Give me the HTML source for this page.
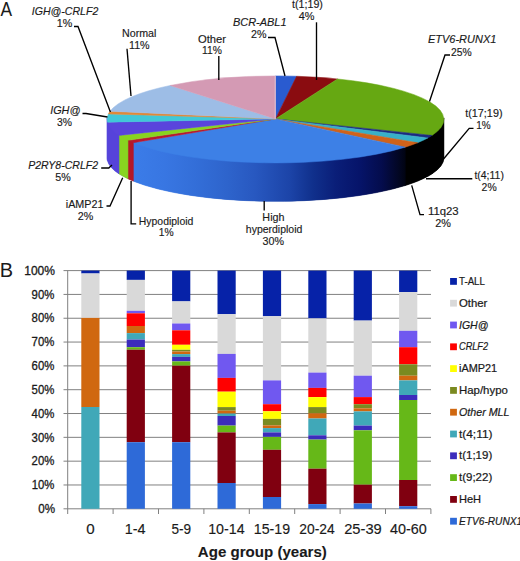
<!DOCTYPE html>
<html><head><meta charset="utf-8"><style>
html,body{margin:0;padding:0;background:#fff;width:520px;height:561px;overflow:hidden}
svg{display:block}
text{font-family:"Liberation Sans",sans-serif;fill:#1a1a1a;stroke:#1a1a1a;stroke-width:0.3px}
.pl{font-size:10.7px;stroke-width:0.15px}
.it{font-style:italic}
.ax{font-size:12.1px}
.xl{font-size:13.9px;stroke-width:0.15px}
.lg{font-size:10.8px;stroke-width:0.22px}
.ttl{font-size:15.4px;font-weight:bold;stroke-width:0.1px}
.pn{font-size:20.5px;stroke-width:0}
</style></head><body>
<svg width="520" height="561" viewBox="0 0 520 561">
<defs>
<linearGradient id="heh" gradientUnits="userSpaceOnUse" x1="134" y1="0" x2="444" y2="0">
<stop offset="0" stop-color="#3b7ce8"/>
<stop offset="0.1" stop-color="#3876e2"/>
<stop offset="0.2" stop-color="#336ed8"/>
<stop offset="0.3" stop-color="#2e64cc"/>
<stop offset="0.39" stop-color="#2858c0"/>
<stop offset="0.503" stop-color="#1c44a8"/>
<stop offset="0.577" stop-color="#10308c"/>
<stop offset="0.652" stop-color="#0a1e78"/>
<stop offset="0.726" stop-color="#06146a"/>
<stop offset="0.8" stop-color="#040c4c"/>
<stop offset="0.858" stop-color="#020620"/>
<stop offset="0.897" stop-color="#000"/>
<stop offset="1" stop-color="#000"/>
</linearGradient>
</defs>
<path d="M443.90,117.90 A168.4,43.5 0 0 1 107.10,117.90 L107.10,157.80 A168.4,43.5 0 0 0 443.90,157.80 Z" fill="url(#heh)"/>
<path d="M443.90,117.90 A168.4,43.5 0 0 1 432.07,133.91 L432.07,173.81 A168.4,43.5 0 0 0 443.90,157.80 Z" fill="#000" stroke="#000" stroke-width="0.6"/>
<path d="M432.07,133.91 A168.4,43.5 0 0 1 427.87,136.42 L427.87,176.32 A168.4,43.5 0 0 0 432.07,173.81 Z" fill="#000" stroke="#000" stroke-width="0.6"/>
<path d="M427.87,136.42 A168.4,43.5 0 0 1 417.68,141.21 L417.68,181.11 A168.4,43.5 0 0 0 427.87,176.32 Z" fill="#000" stroke="#000" stroke-width="0.6"/>
<path d="M417.68,141.21 A168.4,43.5 0 0 1 405.25,145.63 L405.25,185.53 A168.4,43.5 0 0 0 417.68,181.11 Z" fill="#000" stroke="#000" stroke-width="0.6"/>
<path d="M405.25,145.63 A168.4,43.5 0 0 1 133.32,141.21 L133.32,181.11 A168.4,43.5 0 0 0 405.25,185.53 Z" fill="url(#heh)" stroke="url(#heh)" stroke-width="0.6"/>
<path d="M133.32,141.21 A168.4,43.5 0 0 1 127.93,138.86 L127.93,178.76 A168.4,43.5 0 0 0 133.32,181.11 Z" fill="#b41828" stroke="#b41828" stroke-width="0.6"/>
<path d="M127.93,138.86 A168.4,43.5 0 0 1 118.93,133.91 L118.93,173.81 A168.4,43.5 0 0 0 127.93,178.76 Z" fill="#88d420" stroke="#88d420" stroke-width="0.6"/>
<path d="M118.93,133.91 A168.4,43.5 0 0 1 107.43,120.63 L107.43,160.53 A168.4,43.5 0 0 0 118.93,173.81 Z" fill="#5643da" stroke="#5643da" stroke-width="0.6"/>
<path d="M107.43,120.63 A168.4,43.5 0 0 1 107.10,117.90 L107.10,157.80 A168.4,43.5 0 0 0 107.43,160.53 Z" fill="#5643da" stroke="#5643da" stroke-width="0.6"/>
<path d="M275.5,118.9 L275.50,75.90 A168.4,43.5 0 0 1 296.61,76.24 Z" fill="#2a5bd0" stroke="#2a5bd0" stroke-width="0.5" stroke-linejoin="round"/>
<path d="M275.5,118.9 L296.61,76.24 A168.4,43.5 0 0 1 337.49,78.95 Z" fill="#8a0c10" stroke="#8a0c10" stroke-width="0.5" stroke-linejoin="round"/>
<path d="M275.5,118.9 L337.49,78.95 A168.4,43.5 0 0 1 432.07,135.41 Z" fill="#66a812" stroke="#66a812" stroke-width="0.5" stroke-linejoin="round"/>
<path d="M275.5,118.9 L432.07,135.41 A168.4,43.5 0 0 1 427.87,137.92 Z" fill="#1c2a80" stroke="#1c2a80" stroke-width="0.5" stroke-linejoin="round"/>
<path d="M275.5,118.9 L427.87,137.92 A168.4,43.5 0 0 1 417.68,142.71 Z" fill="#38b0c8" stroke="#38b0c8" stroke-width="0.5" stroke-linejoin="round"/>
<path d="M275.5,118.9 L417.68,142.71 A168.4,43.5 0 0 1 405.25,147.13 Z" fill="#d0621a" stroke="#d0621a" stroke-width="0.5" stroke-linejoin="round"/>
<path d="M275.5,118.9 L405.25,147.13 A168.4,43.5 0 0 1 133.32,142.71 Z" fill="#3d80e6" stroke="#3d80e6" stroke-width="0.5" stroke-linejoin="round"/>
<path d="M275.5,118.9 L133.32,142.71 A168.4,43.5 0 0 1 127.93,140.36 Z" fill="#b81830" stroke="#b81830" stroke-width="0.5" stroke-linejoin="round"/>
<path d="M275.5,118.9 L127.93,140.36 A168.4,43.5 0 0 1 118.93,135.41 Z" fill="#88d420" stroke="#88d420" stroke-width="0.5" stroke-linejoin="round"/>
<path d="M275.5,118.9 L118.93,135.41 A168.4,43.5 0 0 1 107.43,122.13 Z" fill="#5a44dc" stroke="#5a44dc" stroke-width="0.5" stroke-linejoin="round"/>
<path d="M275.5,118.9 L107.43,122.13 A168.4,43.5 0 0 1 108.43,113.95 Z" fill="#40c8d8" stroke="#40c8d8" stroke-width="0.5" stroke-linejoin="round"/>
<path d="M275.5,118.9 L108.43,113.95 A168.4,43.5 0 0 1 110.08,111.25 Z" fill="#e08838" stroke="#e08838" stroke-width="0.5" stroke-linejoin="round"/>
<path d="M275.5,118.9 L110.08,111.25 A168.4,43.5 0 0 1 170.21,85.45 Z" fill="#9dbde6" stroke="#9dbde6" stroke-width="0.5" stroke-linejoin="round"/>
<path d="M275.5,118.9 L170.21,85.45 A168.4,43.5 0 0 1 275.50,75.90 Z" fill="#d49ab4" stroke="#d49ab4" stroke-width="0.5" stroke-linejoin="round"/>
<line x1="275.2" y1="118.9" x2="275.2" y2="76.2" stroke="#eee4ee" stroke-width="0.8" opacity="0.7"/>
<path d="M74,26.5 L78,26.5 L110.4,112" fill="none" stroke="#000" stroke-width="1.35"/><path d="M127,48.8 L131,96" fill="none" stroke="#000" stroke-width="1.35"/><path d="M218.8,56 L218.8,80" fill="none" stroke="#000" stroke-width="1.35"/><path d="M268,37.5 L275,37.5 L285,76" fill="none" stroke="#000" stroke-width="1.35"/><path d="M316.5,22.3 L316.5,80" fill="none" stroke="#000" stroke-width="1.35"/><path d="M450,55 L445,55 L429.5,101.5" fill="none" stroke="#000" stroke-width="1.35"/><path d="M473.5,128.4 L469.2,128.4 L442.7,160" fill="none" stroke="#000" stroke-width="1.35"/><path d="M472.3,178.7 L426,178.7" fill="none" stroke="#000" stroke-width="1.35"/><path d="M424,214.6 L420,214.6 L411.7,185.4" fill="none" stroke="#000" stroke-width="1.35"/><path d="M136.2,223.8 L131.1,223.8 L131.1,181" fill="none" stroke="#000" stroke-width="1.35"/><path d="M264.2,201 L264.2,210.4" fill="none" stroke="#000" stroke-width="1.35"/><path d="M106.5,206 L110,206 L122.7,177.7" fill="none" stroke="#000" stroke-width="1.35"/><path d="M101.2,168 L108.8,168 L112,165" fill="none" stroke="#000" stroke-width="1.35"/><path d="M82.5,113.5 L86,113.5 L107.5,117" fill="none" stroke="#000" stroke-width="1.35"/>
<line x1="63.5" y1="508.80" x2="431" y2="508.80" stroke="#808080" stroke-width="1"/><line x1="63.5" y1="484.98" x2="431" y2="484.98" stroke="#808080" stroke-width="1"/><line x1="63.5" y1="461.16" x2="431" y2="461.16" stroke="#808080" stroke-width="1"/><line x1="63.5" y1="437.34" x2="431" y2="437.34" stroke="#808080" stroke-width="1"/><line x1="63.5" y1="413.52" x2="431" y2="413.52" stroke="#808080" stroke-width="1"/><line x1="63.5" y1="389.70" x2="431" y2="389.70" stroke="#808080" stroke-width="1"/><line x1="63.5" y1="365.88" x2="431" y2="365.88" stroke="#808080" stroke-width="1"/><line x1="63.5" y1="342.06" x2="431" y2="342.06" stroke="#808080" stroke-width="1"/><line x1="63.5" y1="318.24" x2="431" y2="318.24" stroke="#808080" stroke-width="1"/><line x1="63.5" y1="294.42" x2="431" y2="294.42" stroke="#808080" stroke-width="1"/><line x1="63.5" y1="270.60" x2="431" y2="270.60" stroke="#808080" stroke-width="1"/>
<line x1="67.7" y1="270.6" x2="67.7" y2="508.8" stroke="#808080" stroke-width="1"/>
<line x1="67.70" y1="508.80" x2="67.70" y2="514" stroke="#808080" stroke-width="1"/><line x1="113.10" y1="508.80" x2="113.10" y2="514" stroke="#808080" stroke-width="1"/><line x1="158.50" y1="508.80" x2="158.50" y2="514" stroke="#808080" stroke-width="1"/><line x1="203.90" y1="508.80" x2="203.90" y2="514" stroke="#808080" stroke-width="1"/><line x1="249.30" y1="508.80" x2="249.30" y2="514" stroke="#808080" stroke-width="1"/><line x1="294.70" y1="508.80" x2="294.70" y2="514" stroke="#808080" stroke-width="1"/><line x1="340.10" y1="508.80" x2="340.10" y2="514" stroke="#808080" stroke-width="1"/><line x1="385.50" y1="508.80" x2="385.50" y2="514" stroke="#808080" stroke-width="1"/><line x1="430.90" y1="508.80" x2="430.90" y2="514" stroke="#808080" stroke-width="1"/>
<rect x="81.30" y="270.60" width="18.2" height="2.90" fill="#0622a8"/><rect x="81.30" y="273.50" width="18.2" height="44.40" fill="#d9d9d9"/><rect x="81.30" y="317.90" width="18.2" height="89.10" fill="#d06810"/><rect x="81.30" y="407.00" width="18.2" height="101.80" fill="#40a8b8"/><rect x="126.70" y="270.60" width="18.2" height="9.30" fill="#0622a8"/><rect x="126.70" y="279.90" width="18.2" height="30.90" fill="#d9d9d9"/><rect x="126.70" y="310.80" width="18.2" height="2.50" fill="#7058f0"/><rect x="126.70" y="313.30" width="18.2" height="12.70" fill="#ff0000"/><rect x="126.70" y="326.00" width="18.2" height="7.10" fill="#d06810"/><rect x="126.70" y="333.10" width="18.2" height="6.50" fill="#40a8b8"/><rect x="126.70" y="339.60" width="18.2" height="7.60" fill="#3c2cbc"/><rect x="126.70" y="347.20" width="18.2" height="2.50" fill="#66b818"/><rect x="126.70" y="349.70" width="18.2" height="92.50" fill="#800010"/><rect x="126.70" y="442.20" width="18.2" height="66.60" fill="#2e6ad8"/><rect x="172.10" y="270.60" width="18.2" height="30.80" fill="#0622a8"/><rect x="172.10" y="301.40" width="18.2" height="22.10" fill="#d9d9d9"/><rect x="172.10" y="323.50" width="18.2" height="6.80" fill="#7058f0"/><rect x="172.10" y="330.30" width="18.2" height="14.50" fill="#ff0000"/><rect x="172.10" y="344.80" width="18.2" height="5.00" fill="#ffff00"/><rect x="172.10" y="349.80" width="18.2" height="1.70" fill="#7a8a20"/><rect x="172.10" y="351.50" width="18.2" height="2.60" fill="#d06810"/><rect x="172.10" y="354.10" width="18.2" height="2.80" fill="#40a8b8"/><rect x="172.10" y="356.90" width="18.2" height="4.50" fill="#3c2cbc"/><rect x="172.10" y="361.40" width="18.2" height="4.30" fill="#66b818"/><rect x="172.10" y="365.70" width="18.2" height="76.50" fill="#800010"/><rect x="172.10" y="442.20" width="18.2" height="66.60" fill="#2e6ad8"/><rect x="217.50" y="270.60" width="18.2" height="43.60" fill="#0622a8"/><rect x="217.50" y="314.20" width="18.2" height="39.70" fill="#d9d9d9"/><rect x="217.50" y="353.90" width="18.2" height="24.00" fill="#7058f0"/><rect x="217.50" y="377.90" width="18.2" height="13.80" fill="#ff0000"/><rect x="217.50" y="391.70" width="18.2" height="15.40" fill="#ffff00"/><rect x="217.50" y="407.10" width="18.2" height="3.60" fill="#7a8a20"/><rect x="217.50" y="410.70" width="18.2" height="2.90" fill="#d06810"/><rect x="217.50" y="413.60" width="18.2" height="2.40" fill="#40a8b8"/><rect x="217.50" y="416.00" width="18.2" height="9.60" fill="#3c2cbc"/><rect x="217.50" y="425.60" width="18.2" height="6.80" fill="#66b818"/><rect x="217.50" y="432.40" width="18.2" height="50.60" fill="#800010"/><rect x="217.50" y="483.00" width="18.2" height="25.80" fill="#2e6ad8"/><rect x="262.90" y="270.60" width="18.2" height="45.60" fill="#0622a8"/><rect x="262.90" y="316.20" width="18.2" height="64.20" fill="#d9d9d9"/><rect x="262.90" y="380.40" width="18.2" height="23.80" fill="#7058f0"/><rect x="262.90" y="404.20" width="18.2" height="7.10" fill="#ff0000"/><rect x="262.90" y="411.30" width="18.2" height="7.60" fill="#ffff00"/><rect x="262.90" y="418.90" width="18.2" height="6.50" fill="#7a8a20"/><rect x="262.90" y="425.40" width="18.2" height="2.70" fill="#d06810"/><rect x="262.90" y="428.10" width="18.2" height="4.30" fill="#40a8b8"/><rect x="262.90" y="432.40" width="18.2" height="4.50" fill="#3c2cbc"/><rect x="262.90" y="436.90" width="18.2" height="12.90" fill="#66b818"/><rect x="262.90" y="449.80" width="18.2" height="47.20" fill="#800010"/><rect x="262.90" y="497.00" width="18.2" height="11.80" fill="#2e6ad8"/><rect x="308.30" y="270.60" width="18.2" height="47.80" fill="#0622a8"/><rect x="308.30" y="318.40" width="18.2" height="54.20" fill="#d9d9d9"/><rect x="308.30" y="372.60" width="18.2" height="15.30" fill="#7058f0"/><rect x="308.30" y="387.90" width="18.2" height="9.20" fill="#ff0000"/><rect x="308.30" y="397.10" width="18.2" height="10.00" fill="#ffff00"/><rect x="308.30" y="407.10" width="18.2" height="6.20" fill="#7a8a20"/><rect x="308.30" y="413.30" width="18.2" height="5.20" fill="#d06810"/><rect x="308.30" y="418.50" width="18.2" height="16.80" fill="#40a8b8"/><rect x="308.30" y="435.30" width="18.2" height="4.30" fill="#3c2cbc"/><rect x="308.30" y="439.60" width="18.2" height="29.10" fill="#66b818"/><rect x="308.30" y="468.70" width="18.2" height="35.40" fill="#800010"/><rect x="308.30" y="504.10" width="18.2" height="4.70" fill="#2e6ad8"/><rect x="353.70" y="270.60" width="18.2" height="50.00" fill="#0622a8"/><rect x="353.70" y="320.60" width="18.2" height="55.10" fill="#d9d9d9"/><rect x="353.70" y="375.70" width="18.2" height="21.40" fill="#7058f0"/><rect x="353.70" y="397.10" width="18.2" height="7.10" fill="#ff0000"/><rect x="353.70" y="404.20" width="18.2" height="4.10" fill="#7a8a20"/><rect x="353.70" y="408.30" width="18.2" height="3.10" fill="#d06810"/><rect x="353.70" y="411.40" width="18.2" height="14.20" fill="#40a8b8"/><rect x="353.70" y="425.60" width="18.2" height="4.70" fill="#3c2cbc"/><rect x="353.70" y="430.30" width="18.2" height="54.40" fill="#66b818"/><rect x="353.70" y="484.70" width="18.2" height="18.80" fill="#800010"/><rect x="353.70" y="503.50" width="18.2" height="5.30" fill="#2e6ad8"/><rect x="399.10" y="270.60" width="18.2" height="21.50" fill="#0622a8"/><rect x="399.10" y="292.10" width="18.2" height="38.70" fill="#d9d9d9"/><rect x="399.10" y="330.80" width="18.2" height="16.40" fill="#7058f0"/><rect x="399.10" y="347.20" width="18.2" height="17.10" fill="#ff0000"/><rect x="399.10" y="364.30" width="18.2" height="11.40" fill="#7a8a20"/><rect x="399.10" y="375.70" width="18.2" height="4.70" fill="#d06810"/><rect x="399.10" y="380.40" width="18.2" height="14.60" fill="#40a8b8"/><rect x="399.10" y="395.00" width="18.2" height="5.00" fill="#3c2cbc"/><rect x="399.10" y="400.00" width="18.2" height="80.00" fill="#66b818"/><rect x="399.10" y="480.00" width="18.2" height="26.20" fill="#800010"/><rect x="399.10" y="506.20" width="18.2" height="2.60" fill="#2e6ad8"/>
<rect x="450.1" y="278.00" width="6.8" height="6.8" fill="#0622a8"/><rect x="450.1" y="299.80" width="6.8" height="6.8" fill="#d9d9d9"/><rect x="450.1" y="321.60" width="6.8" height="6.8" fill="#7058f0"/><rect x="450.1" y="343.40" width="6.8" height="6.8" fill="#ff0000"/><rect x="450.1" y="365.20" width="6.8" height="6.8" fill="#ffff00"/><rect x="450.1" y="387.00" width="6.8" height="6.8" fill="#7a8a20"/><rect x="450.1" y="408.80" width="6.8" height="6.8" fill="#d06810"/><rect x="450.1" y="430.60" width="6.8" height="6.8" fill="#40a8b8"/><rect x="450.1" y="452.40" width="6.8" height="6.8" fill="#3c2cbc"/><rect x="450.1" y="474.20" width="6.8" height="6.8" fill="#66b818"/><rect x="450.1" y="496.00" width="6.8" height="6.8" fill="#800010"/><rect x="450.1" y="517.80" width="6.8" height="6.8" fill="#2e6ad8"/>
<text id="ax0" x="38.24" y="513.00" textLength="16.76" lengthAdjust="spacingAndGlyphs" class="ax">0%</text><text id="ax1" x="31.63" y="489.18" textLength="22.68" lengthAdjust="spacingAndGlyphs" class="ax">10%</text><text id="ax2" x="31.62" y="465.36" textLength="22.72" lengthAdjust="spacingAndGlyphs" class="ax">20%</text><text id="ax3" x="31.62" y="441.54" textLength="22.72" lengthAdjust="spacingAndGlyphs" class="ax">30%</text><text id="ax4" x="31.62" y="417.72" textLength="22.72" lengthAdjust="spacingAndGlyphs" class="ax">40%</text><text id="ax5" x="31.62" y="393.90" textLength="22.72" lengthAdjust="spacingAndGlyphs" class="ax">50%</text><text id="ax6" x="31.62" y="370.08" textLength="22.72" lengthAdjust="spacingAndGlyphs" class="ax">60%</text><text id="ax7" x="31.62" y="346.26" textLength="22.72" lengthAdjust="spacingAndGlyphs" class="ax">70%</text><text id="ax8" x="31.62" y="322.44" textLength="22.72" lengthAdjust="spacingAndGlyphs" class="ax">80%</text><text id="ax9" x="31.62" y="298.62" textLength="22.72" lengthAdjust="spacingAndGlyphs" class="ax">90%</text><text id="ax10" x="24.19" y="274.80" textLength="30.77" lengthAdjust="spacingAndGlyphs" class="ax">100%</text><text id="xl0" x="86.16" y="533.60" textLength="8.42" lengthAdjust="spacingAndGlyphs" class="xl">0</text><text id="xl1" x="124.74" y="533.60" textLength="20.75" lengthAdjust="spacingAndGlyphs" class="xl">1-4</text><text id="xl2" x="171.40" y="533.60" textLength="19.68" lengthAdjust="spacingAndGlyphs" class="xl">5-9</text><text id="xl3" x="208.16" y="533.60" textLength="36.41" lengthAdjust="spacingAndGlyphs" class="xl">10-14</text><text id="xl4" x="253.77" y="533.60" textLength="36.38" lengthAdjust="spacingAndGlyphs" class="xl">15-19</text><text id="xl5" x="299.37" y="533.60" textLength="35.40" lengthAdjust="spacingAndGlyphs" class="xl">20-24</text><text id="xl6" x="344.17" y="533.60" textLength="37.59" lengthAdjust="spacingAndGlyphs" class="xl">25-39</text><text id="xl7" x="390.00" y="533.60" textLength="36.75" lengthAdjust="spacingAndGlyphs" class="xl">40-60</text><text id="ttl" x="197.81" y="556.50" textLength="129.10" lengthAdjust="spacingAndGlyphs" class="ttl">Age group (years)</text><text id="lg0" x="459.03" y="284.90" textLength="25.89" lengthAdjust="spacingAndGlyphs" class="lg">T-ALL</text><text id="lg1" x="458.97" y="306.70" textLength="28.44" lengthAdjust="spacingAndGlyphs" class="lg">Other</text><text id="lg2" x="459.00" y="328.50" textLength="29.33" lengthAdjust="spacingAndGlyphs" class="lg it">IGH@</text><text id="lg3" x="459.07" y="350.30" textLength="28.98" lengthAdjust="spacingAndGlyphs" class="lg it">CRLF2</text><text id="lg4" x="458.98" y="372.10" textLength="38.14" lengthAdjust="spacingAndGlyphs" class="lg">iAMP21</text><text id="lg5" x="458.96" y="393.90" textLength="48.96" lengthAdjust="spacingAndGlyphs" class="lg">Hap/hypo</text><text id="lg6" x="459.00" y="415.70" textLength="50.41" lengthAdjust="spacingAndGlyphs" class="lg it">Other MLL</text><text id="lg7" x="459.01" y="437.50" textLength="33.48" lengthAdjust="spacingAndGlyphs" class="lg">t(4;11)</text><text id="lg8" x="459.00" y="459.30" textLength="33.27" lengthAdjust="spacingAndGlyphs" class="lg">t(1;19)</text><text id="lg9" x="459.00" y="481.10" textLength="33.27" lengthAdjust="spacingAndGlyphs" class="lg">t(9;22)</text><text id="lg10" x="458.98" y="502.90" textLength="22.16" lengthAdjust="spacingAndGlyphs" class="lg">HeH</text><text id="lg11" x="459.02" y="524.70" textLength="63.15" lengthAdjust="spacingAndGlyphs" class="lg it">ETV6-RUNX1</text><text id="igc1" x="31.80" y="15.00" textLength="66.46" lengthAdjust="spacingAndGlyphs" class="pl it">IGH@-CRLF2</text><text id="igc2" x="56.75" y="26.90" textLength="15.53" lengthAdjust="spacingAndGlyphs" class="pl">1%</text><text id="nor1" x="122.00" y="36.80" textLength="34.37" lengthAdjust="spacingAndGlyphs" class="pl">Normal</text><text id="nor2" x="128.98" y="48.80" textLength="20.66" lengthAdjust="spacingAndGlyphs" class="pl">11%</text><text id="oth1" x="197.97" y="42.50" textLength="28.04" lengthAdjust="spacingAndGlyphs" class="pl">Other</text><text id="oth2" x="202.00" y="54.25" textLength="19.86" lengthAdjust="spacingAndGlyphs" class="pl">11%</text><text id="bcr1" x="232.99" y="25.50" textLength="53.57" lengthAdjust="spacingAndGlyphs" class="pl it">BCR-ABL1</text><text id="bcr2" x="251.00" y="38.00" textLength="15.45" lengthAdjust="spacingAndGlyphs" class="pl">2%</text><text id="t119a" x="292.00" y="7.70" textLength="30.89" lengthAdjust="spacingAndGlyphs" class="pl">t(1;19)</text><text id="t119b" x="298.75" y="20.00" textLength="15.75" lengthAdjust="spacingAndGlyphs" class="pl">4%</text><text id="etv1" x="428.00" y="43.25" textLength="68.32" lengthAdjust="spacingAndGlyphs" class="pl it">ETV6-RUNX1</text><text id="etv2" x="451.00" y="55.50" textLength="20.69" lengthAdjust="spacingAndGlyphs" class="pl">25%</text><text id="t1719a" x="465.19" y="116.50" textLength="37.36" lengthAdjust="spacingAndGlyphs" class="pl">t(17;19)</text><text id="t1719b" x="476.21" y="128.65" textLength="14.42" lengthAdjust="spacingAndGlyphs" class="pl">1%</text><text id="t411a" x="474.40" y="178.70" textLength="29.51" lengthAdjust="spacingAndGlyphs" class="pl">t(4;11)</text><text id="t411b" x="481.61" y="191.00" textLength="15.05" lengthAdjust="spacingAndGlyphs" class="pl">2%</text><text id="q23a" x="427.94" y="215.20" textLength="30.73" lengthAdjust="spacingAndGlyphs" class="pl">11q23</text><text id="q23b" x="435.18" y="227.10" textLength="15.69" lengthAdjust="spacingAndGlyphs" class="pl">2%</text><text id="hyp1" x="138.81" y="224.60" textLength="54.54" lengthAdjust="spacingAndGlyphs" class="pl">Hypodiploid</text><text id="hyp2" x="158.85" y="236.20" textLength="14.88" lengthAdjust="spacingAndGlyphs" class="pl">1%</text><text id="heh1" x="262.39" y="220.80" textLength="22.11" lengthAdjust="spacingAndGlyphs" class="pl">High</text><text id="heh2" x="245.82" y="232.70" textLength="56.52" lengthAdjust="spacingAndGlyphs" class="pl">hyperdiploid</text><text id="heh3" x="262.59" y="245.00" textLength="21.46" lengthAdjust="spacingAndGlyphs" class="pl">30%</text><text id="iamp1" x="65.78" y="208.20" textLength="37.85" lengthAdjust="spacingAndGlyphs" class="pl">iAMP21</text><text id="iamp2" x="77.80" y="219.70" textLength="15.45" lengthAdjust="spacingAndGlyphs" class="pl">2%</text><text id="p2r1" x="28.20" y="168.90" textLength="70.00" lengthAdjust="spacingAndGlyphs" class="pl it">P2RY8-CRLF2</text><text id="p2r2" x="55.20" y="181.20" textLength="15.45" lengthAdjust="spacingAndGlyphs" class="pl">5%</text><text id="igh1" x="50.18" y="113.50" textLength="30.29" lengthAdjust="spacingAndGlyphs" class="pl it">IGH@</text><text id="igh2" x="57.00" y="125.60" textLength="14.96" lengthAdjust="spacingAndGlyphs" class="pl">3%</text><text id="pA" x="0.62" y="15.60" textLength="11.56" lengthAdjust="spacingAndGlyphs" class="pn">A</text><text id="pB" x="-0.16" y="276.90" textLength="13.32" lengthAdjust="spacingAndGlyphs" class="pn">B</text>
</svg>
</body></html>
